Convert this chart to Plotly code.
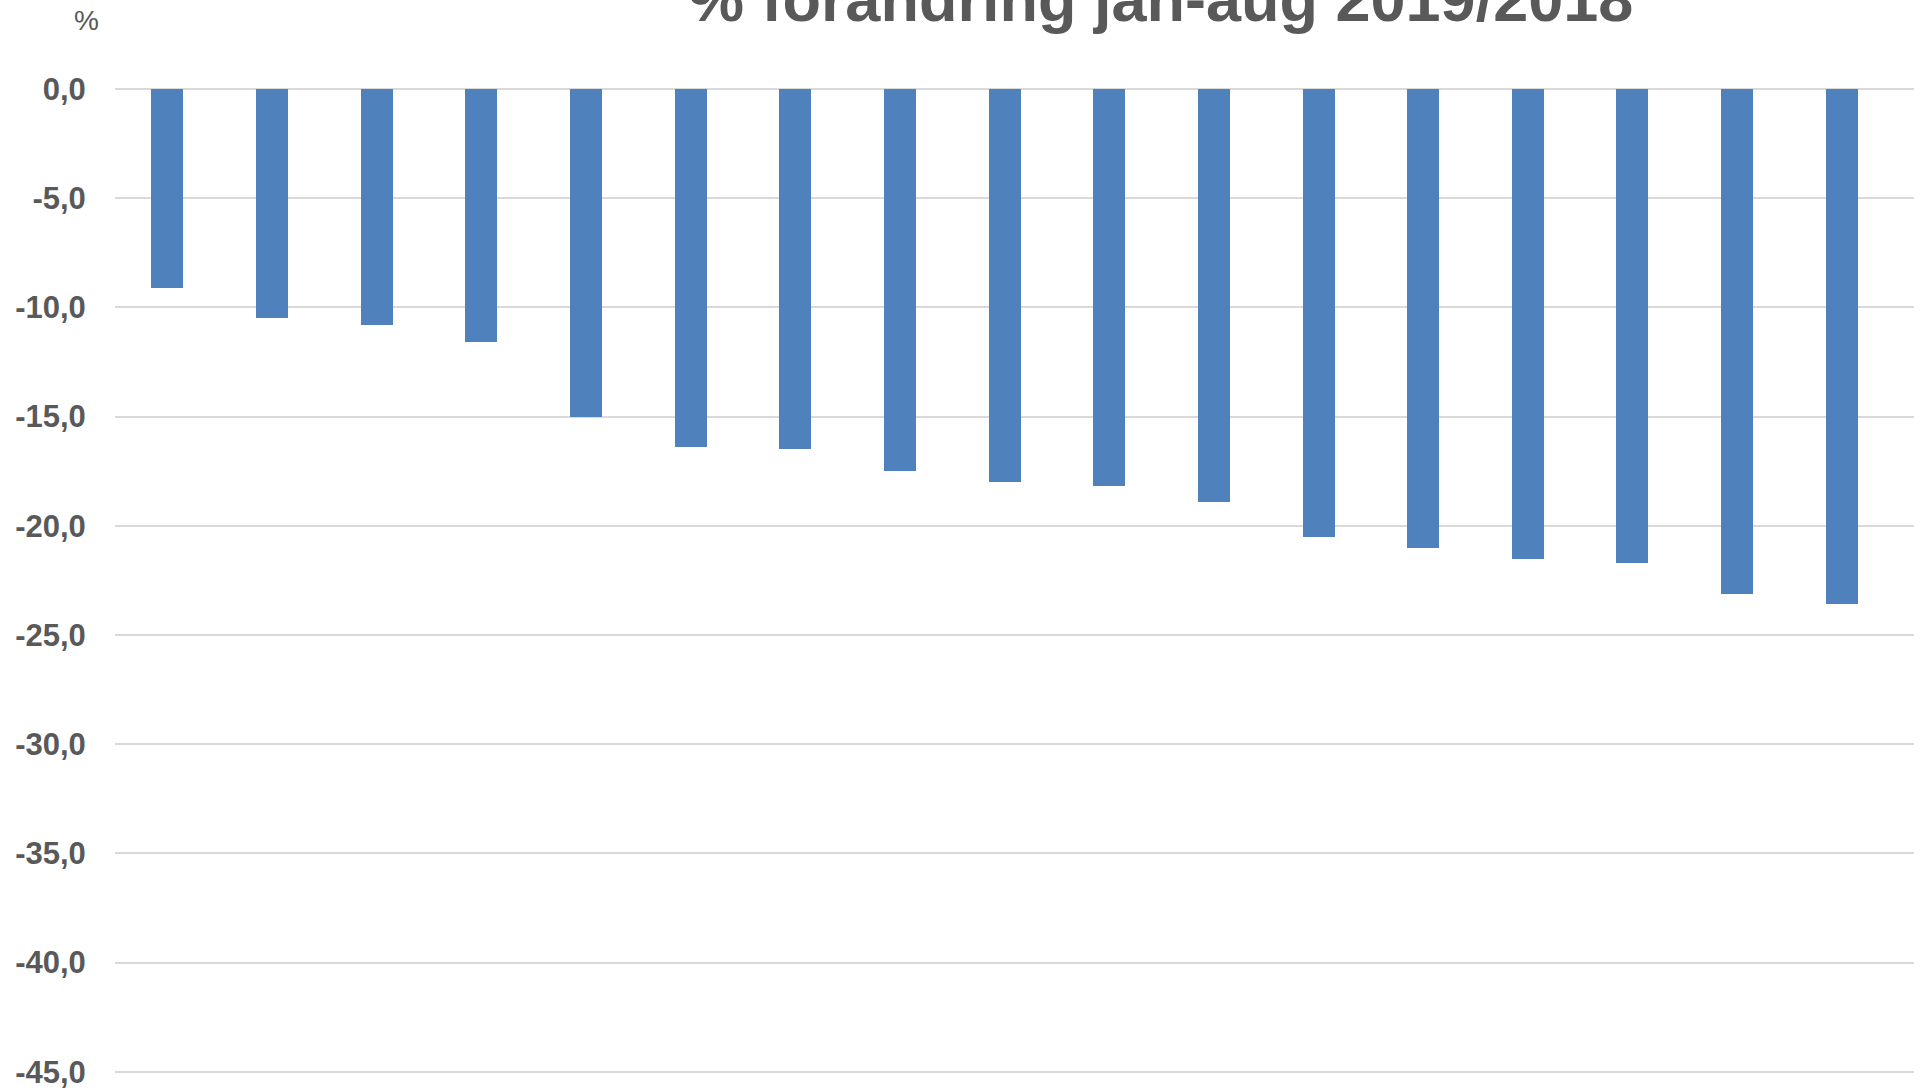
import plotly.graph_objects as go

# Data
categories = [str(i) for i in range(1, 18)]
values = [-9.1, -10.5, -10.8, -11.6, -15.0, -16.4, -16.5, -17.5, -18.0,
          -18.2, -18.9, -20.5, -21.0, -21.5, -21.7, -23.1, -23.6]
tick_vals = [0, -5, -10, -15, -20, -25, -30, -35, -40, -45]
tick_text = ["0,0", "-5,0", "-10,0", "-15,0", "-20,0", "-25,0",
             "-30,0", "-35,0", "-40,0", "-45,0"]
title_text = "% förändring jan-aug 2019/2018"
unit_text = "%"

GRAY = "#595959"
GRID = "#d9d9d9"
FONT = "Liberation Sans, Arial, sans-serif"

fig = go.Figure()
fig.add_trace(go.Bar(
    x=categories, y=values,
    marker=dict(color="#4f81bd", line=dict(width=0)),
    width=0.306,
    hoverinfo="x+y",
))

W, H = 1924, 1088
ml, mr, mt, mb = 115, 10, 89, 14
plot_w = W - ml - mr
plot_h = H - mt - mb

def px_x(x):
    return (x - ml) / plot_w

def px_y(y):
    return (H - mb - y) / plot_h

fig.update_layout(
    width=W, height=H,
    margin=dict(l=ml, r=mr, t=mt, b=mb, pad=0, autoexpand=False),
    paper_bgcolor="white", plot_bgcolor="white",
    showlegend=False,
    bargap=0.0,
    font=dict(family=FONT, color=GRAY),
    xaxis=dict(
        type="category",
        range=[-0.5, 16.69],
        showticklabels=False, automargin=False,
        showgrid=False, zeroline=False, showline=False, ticks="",
    ),
    yaxis=dict(
        range=[-45.1, 0],
        automargin=False,
        tickvals=tick_vals, ticktext=tick_text,
        tickfont=dict(family=FONT, size=31, color=GRAY, weight="bold"),
        ticklabeloverflow="allow",
        showgrid=True, gridcolor=GRID, gridwidth=2,
        zeroline=True, zerolinecolor=GRID, zerolinewidth=2,
        showline=False,
        ticks="outside", ticklen=22, tickcolor="rgba(0,0,0,0)",
    ),
    annotations=[
        dict(text=title_text, xref="paper", yref="paper",
             x=px_x(1160), y=px_y(-1), xanchor="center", yanchor="middle",
             showarrow=False,
             font=dict(family=FONT, size=63, color=GRAY, weight="bold")),
        dict(text=unit_text, xref="paper", yref="paper",
             x=px_x(86), y=px_y(21), xanchor="center", yanchor="middle",
             showarrow=False,
             font=dict(family=FONT, size=28, color=GRAY)),
    ],
)

fig.write_html(
    "out.html",
    config={"displayModeBar": False},
    post_script="document.body.style.margin='0';document.body.style.overflow='hidden';",
)
